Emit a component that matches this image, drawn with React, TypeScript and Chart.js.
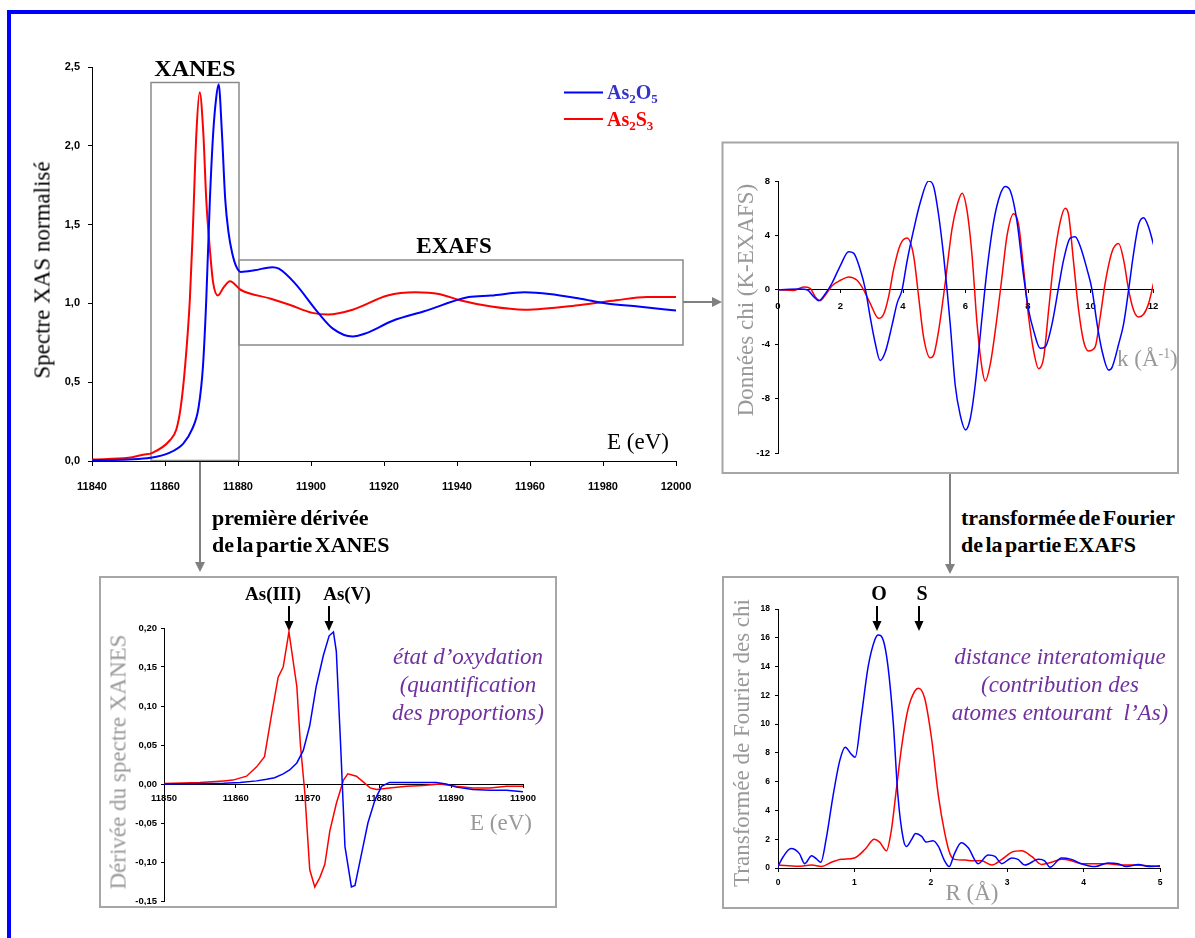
import React, { useEffect, useRef } from "react";
import { Chart, registerables } from "chart.js";

Chart.register(...registerables);

const SANS = "'Liberation Sans', Arial, sans-serif";
const SERIF = "'Liberation Serif', 'Times New Roman', serif";
const BLUE = "#0000FF";
const RED = "#FF0000";
const GRAY_TXT = "#999999";
const PURPLE = "#7030A0";

// ---------- Main XAS spectrum ----------
const xasE_O5 = [11840, 11850, 11856, 11861, 11865, 11867.4, 11869.2, 11870.4, 11871.3, 11872.3, 11873.2, 11874, 11874.7, 11875.6, 11876.5, 11877.4, 11878.4, 11879.6, 11880.8, 11884.5, 11889.4, 11891.2, 11895.5, 11902, 11906, 11911.4, 11915, 11922.4, 11931, 11943.2, 11949.3, 11958.5, 11965.3, 11973.8, 11981, 11989.6, 12000];
const xasO5 = [0.005, 0.01, 0.02, 0.05, 0.11, 0.2, 0.34, 0.6, 1.02, 1.66, 2.08, 2.3, 2.39, 2.08, 1.66, 1.45, 1.32, 1.23, 1.2, 1.21, 1.23, 1.22, 1.13, 0.94, 0.84, 0.79, 0.81, 0.89, 0.95, 1.04, 1.05, 1.07, 1.06, 1.03, 1.0, 0.98, 0.955];
const xasE_S3 = [11840, 11850, 11854, 11856.4, 11861.3, 11863.1, 11864.3, 11865.5, 11866.8, 11867.6, 11868.6, 11869.5, 11870.5, 11871.3, 11872.3, 11873.2, 11874.5, 11876, 11877.8, 11880.8, 11889, 11894.3, 11900.4, 11904.7, 11911.4, 11921, 11928.6, 11935, 11940.8, 11949.4, 11958.5, 11973.8, 11983.6, 11992, 12000];
const xasS3 = [0.01, 0.02, 0.04, 0.05, 0.13, 0.2, 0.34, 0.6, 1.02, 1.45, 2.08, 2.34, 2.08, 1.66, 1.34, 1.13, 1.05, 1.1, 1.14, 1.085, 1.03, 0.99, 0.94, 0.93, 0.96, 1.05, 1.07, 1.06, 1.02, 0.98, 0.96, 0.99, 1.02, 1.04, 1.04];

// ---------- chi(k) ----------
const chiK_O5 = [0, 0.71, 0.93, 1.14, 1.3, 1.51, 1.73, 2.0, 2.26, 2.42, 2.63, 2.8, 2.95, 3.1, 3.27, 3.43, 3.65, 3.81, 3.97, 4.13, 4.34, 4.55, 4.82, 4.98, 5.14, 5.3, 5.41, 5.51, 5.67, 5.83, 6.0, 6.15, 6.31, 6.53, 6.69, 6.9, 7.11, 7.27, 7.43, 7.65, 7.86, 8.02, 8.18, 8.39, 8.55, 8.77, 8.98, 9.14, 9.35, 9.51, 9.67, 9.89, 10.05, 10.21, 10.37, 10.58, 10.69, 10.9, 11.06, 11.22, 11.38, 11.54, 11.7, 11.86, 12.02];
const chiO5 = [0, 0.05, 0, -0.5, -0.8, -0.3, 0.5, 1.8, 2.8, 2.7, 1.5, 0, -2.0, -3.8, -5.2, -4.6, -2.6, -1.0, 0, 2.1, 4.4, 6.4, 8.0, 7.6, 5.5, 2.5, 0, -2.5, -7.0, -9.2, -10.3, -9.5, -7.0, -2.0, 1.5, 5.0, 7.0, 7.6, 7.3, 5.0, 1.0, -1.5, -3.0, -4.3, -4.2, -2.5, 0.2, 2.2, 3.8, 3.9, 3.2, 1.5, 0, -2.5, -4.5, -5.9, -5.7, -4.0, -2.5, 0, 2.7, 4.8, 5.3, 4.6, 3.3];
const chiK_S3 = [0, 0.5, 0.82, 1.03, 1.19, 1.35, 1.51, 1.73, 2.0, 2.26, 2.53, 2.74, 2.95, 3.22, 3.38, 3.54, 3.7, 3.91, 4.13, 4.34, 4.5, 4.66, 4.87, 4.98, 5.14, 5.35, 5.57, 5.73, 5.89, 6.05, 6.21, 6.37, 6.53, 6.63, 6.79, 7.01, 7.17, 7.33, 7.54, 7.7, 7.86, 8.02, 8.18, 8.34, 8.5, 8.66, 8.82, 9.03, 9.19, 9.3, 9.46, 9.62, 9.78, 9.94, 10.15, 10.31, 10.47, 10.69, 10.9, 11.06, 11.22, 11.38, 11.54, 11.7, 11.86, 12.02];
const chiS3 = [0, -0.05, 0.2, 0.1, -0.5, -0.8, -0.4, 0.3, 0.7, 0.95, 0.7, 0, -1.0, -2.1, -1.8, -0.5, 1.5, 3.3, 3.8, 2.5, -0.5, -3.5, -5.0, -4.8, -3.0, 0.5, 4.5, 6.2, 7.1, 5.8, 2.5, -2.5, -5.8, -6.7, -5.5, -2.0, 1.0, 4.0, 5.6, 4.8, 1.5, -2.0, -4.5, -5.8, -5.0, -1.5, 2.0, 5.0, 6.0, 5.5, 2.0, -1.5, -3.8, -4.5, -4.2, -2.0, 0.5, 2.8, 3.4, 2.2, 0, -1.5, -2.0, -1.8, -1.0, 0.5];

// ---------- XANES first derivative ----------
const derE_S3 = [11850, 11855, 11858.3, 11859.6, 11861.5, 11862.9, 11864, 11865, 11865.9, 11866.6, 11867.4, 11868.5, 11869, 11869.6, 11870.3, 11871, 11871.7, 11872.4, 11873.1, 11874, 11875, 11875.6, 11876.8, 11877.7, 11878.7, 11879.6, 11881.4, 11883.8, 11886.1, 11888.4, 11890.7, 11893, 11895.4, 11897.7, 11900];
const derS3 = [0.0005, 0.002, 0.004, 0.005, 0.01, 0.022, 0.035, 0.09, 0.137, 0.15, 0.195, 0.125, 0.05, -0.01, -0.11, -0.132, -0.12, -0.103, -0.06, -0.025, 0.005, 0.013, 0.01, 0.003, -0.005, -0.007, -0.005, -0.003, -0.002, 0, -0.003, -0.005, -0.005, -0.003, -0.003];
const derE_O5 = [11850, 11858.3, 11860.6, 11862.9, 11864.3, 11865.4, 11866.6, 11867.5, 11868.5, 11869.4, 11870.3, 11871.2, 11872.2, 11873, 11873.6, 11874, 11874.6, 11875.2, 11876.1, 11876.6, 11877.5, 11878.4, 11879.4, 11880.3, 11881.4, 11883.8, 11886.1, 11887.9, 11889.3, 11890.7, 11893, 11895.4, 11897.7, 11900];
const derO5 = [0, 0.001, 0.002, 0.004, 0.006, 0.008, 0.013, 0.018, 0.027, 0.043, 0.075, 0.125, 0.165, 0.19, 0.195, 0.17, 0.05, -0.08, -0.132, -0.13, -0.09, -0.05, -0.02, -0.003, 0.002, 0.002, 0.002, 0.002, 0, -0.004, -0.007, -0.008, -0.008, -0.01];

// ---------- Fourier transform ----------
const ftR_O5 = [0, 0.07, 0.17, 0.28, 0.35, 0.44, 0.5, 0.56, 0.63, 0.72, 0.81, 0.88, 0.96, 1.01, 1.09, 1.18, 1.27, 1.31, 1.38, 1.44, 1.51, 1.57, 1.64, 1.68, 1.75, 1.8, 1.88, 1.94, 2.03, 2.1, 2.18, 2.24, 2.31, 2.4, 2.49, 2.62, 2.75, 2.84, 2.93, 3.06, 3.14, 3.23, 3.41, 3.49, 3.56, 3.71, 3.84, 3.97, 4.15, 4.32, 4.45, 4.56, 4.72, 4.85, 5.0];
const ftO5 = [0.1, 0.8, 1.35, 1.0, 0.3, 0.85, 0.65, 0.4, 2.0, 5.0, 7.5, 8.4, 7.9, 7.7, 10.5, 14.0, 15.9, 16.2, 15.8, 14.0, 10.0, 5.0, 2.0, 1.5, 2.0, 2.4, 2.2, 1.8, 1.9, 1.5, 0.5, 0.1, 1.0, 1.75, 1.4, 0.3, 0.9, 0.8, 0.3, 0.7, 0.6, 0.2, 0.6, 0.5, 0.05, 0.7, 0.6, 0.3, 0.1, 0.35, 0.3, 0.1, 0.25, 0.1, 0.15];
const ftR_S3 = [0, 0.26, 0.44, 0.57, 0.7, 0.83, 1.0, 1.14, 1.26, 1.33, 1.42, 1.48, 1.55, 1.62, 1.7, 1.79, 1.84, 1.92, 2.01, 2.1, 2.18, 2.25, 2.31, 2.45, 2.55, 2.66, 2.8, 2.93, 3.06, 3.19, 3.32, 3.45, 3.58, 3.71, 3.84, 3.97, 4.15, 4.32, 4.5, 4.67, 4.85, 5.0];
const ftS3 = [0.2, 0.12, 0.2, 0.1, 0.4, 0.6, 0.7, 1.3, 2.0, 1.8, 1.2, 2.5, 5.5, 8.5, 11.0, 12.3, 12.5, 11.8, 9.0, 5.0, 2.5, 1.0, 0.6, 0.55, 0.5, 0.5, 0.2, 0.6, 1.1, 1.2, 0.8, 0.25, 0.4, 0.6, 0.5, 0.3, 0.3, 0.3, 0.2, 0.2, 0.15, 0.1];

const pts = (xs: number[], ys: number[]) => xs.map((x, i) => ({ x, y: ys[i] }));
const comma = (d: number) => (v: any) => Number(v).toFixed(d).replace(".", ",").replace("-0,00", "0,00");
const plain = (v: any) => String(Math.round(Number(v) * 1000) / 1000);

type Area = { l: number; t: number; r: number; b: number };
type AxisSpec = { min: number; max: number; step: number; font: number; pad: number; tick: number; fmt: (v: any) => string };

function Panel(props: {
  left: number; top: number; width: number; height: number; area: Area;
  datasets: any[]; x: AxisSpec; y: AxisSpec; xAtZero?: boolean;
}) {
  const { left, top, width, height, area, datasets, x, y, xAtZero } = props;
  const ref = useRef<HTMLCanvasElement>(null);
  useEffect(() => {
    const chart = new Chart(ref.current as HTMLCanvasElement, {
      type: "line",
      data: { datasets },
      options: {
        animation: false,
        responsive: false,
        devicePixelRatio: 1,
        layout: { padding: { left: 0, top: area.t, right: width - area.r, bottom: xAtZero ? height - area.b : 0 } },
        plugins: { legend: { display: false }, tooltip: { enabled: false } },
        elements: { point: { radius: 0 } },
        scales: {
          x: {
            type: "linear",
            position: xAtZero ? ({ y: 0 } as any) : "bottom",
            min: x.min,
            max: x.max,
            ticks: { stepSize: x.step, autoSkip: false, maxRotation: 0, padding: x.pad, color: "#000",
              font: { family: SANS, size: x.font, weight: "bold" }, callback: x.fmt },
            grid: { drawOnChartArea: false, drawTicks: true, tickLength: x.tick, color: "#000", lineWidth: 1 },
            border: { display: true, color: "#000", width: 1 },
            afterFit: (s: any) => { if (!xAtZero) s.height = height - area.b; s.paddingLeft = 0; s.paddingRight = 0; },
          },
          y: {
            type: "linear",
            position: "left",
            min: y.min,
            max: y.max,
            ticks: { stepSize: y.step, autoSkip: false, padding: y.pad, color: "#000",
              font: { family: SANS, size: y.font, weight: "bold" }, callback: y.fmt },
            grid: { drawOnChartArea: false, drawTicks: true, tickLength: y.tick, color: "#000", lineWidth: 1 },
            border: { display: true, color: "#000", width: 1 },
            afterFit: (s: any) => { s.width = area.l; s.paddingTop = 0; s.paddingBottom = 0; },
          },
        },
      } as any,
    });
    return () => chart.destroy();
  }, []);
  return <canvas ref={ref} width={width} height={height} style={{ position: "absolute", left, top, width, height }} />;
}

const ds = (data: any[], color: string, w: number, smooth: boolean) => ({
  data, borderColor: color, borderWidth: w, pointRadius: 0, fill: false,
  cubicInterpolationMode: smooth ? "monotone" : "default", tension: 0,
});

function T(p: { x: number; y: number; children: any; style?: any; start?: boolean; rot?: boolean }) {
  const tr = `translate(${p.start ? "0" : "-50%"}, -50%)${p.rot ? " rotate(-90deg)" : ""}`;
  return (
    <div style={{ position: "absolute", left: p.x, top: p.y, transform: tr, whiteSpace: "nowrap", lineHeight: 1, ...p.style }}>
      {p.children}
    </div>
  );
}

const Sub = ({ c }: { c: string }) => <span style={{ fontSize: "0.65em", position: "relative", top: "0.3em" }}>{c}</span>;

function ArrowDown({ x, y1, y2, color, w, hw, hh }: any) {
  return (
    <g>
      <line x1={x} y1={y1} x2={x} y2={y2 - hh + 1} stroke={color} strokeWidth={w} />
      <polygon points={`${x - hw / 2},${y2 - hh} ${x + hw / 2},${y2 - hh} ${x},${y2}`} fill={color} />
    </g>
  );
}

export default function App() {
  const serif = { fontFamily: SERIF };
  const bold = { fontFamily: SERIF, fontWeight: "bold" as const };
  const gt = { fontFamily: SERIF, fontSize: 23, color: GRAY_TXT };
  const purple = { fontFamily: SERIF, fontStyle: "italic" as const, fontSize: 23, color: PURPLE };
  return (
    <div style={{ position: "absolute", left: 0, top: 0, width: 1195, height: 938, overflow: "hidden", background: "#fff" }}>
      <svg width={1195} height={938} style={{ position: "absolute", left: 0, top: 0 }}>
        <rect x={7} y={10} width={1188} height={4} fill="#0000FF" />
        <rect x={7} y={10} width={4} height={928} fill="#0000FF" />
        {/* XANES / EXAFS boxes */}
        <rect x={151} y={82.5} width={88} height={378} fill="none" stroke="#8a8a8a" strokeWidth={1.5} />
        <rect x={239} y={260} width={444} height={85} fill="none" stroke="#8a8a8a" strokeWidth={1.5} />
        {/* panel boxes */}
        <rect x={722.5} y={142.5} width={455.5} height={330.5} fill="none" stroke="#a6a6a6" strokeWidth={2} />
        <rect x={100} y={577} width={456} height={330} fill="none" stroke="#a6a6a6" strokeWidth={2} />
        <rect x={723} y={577} width={455} height={331} fill="none" stroke="#a6a6a6" strokeWidth={2} />
        {/* gray connectors */}
        <line x1={683} y1={302} x2={713} y2={302} stroke="#808080" strokeWidth={2} />
        <polygon points="712,297 712,307 722,302" fill="#808080" />
        <ArrowDown x={200} y1={461} y2={572} color="#808080" w={2} hw={10} hh={10} />
        <ArrowDown x={950} y1={474} y2={574} color="#808080" w={2} hw={10} hh={10} />
        {/* black markers */}
        <ArrowDown x={289} y1={606} y2={631} color="#000" w={2} hw={9} hh={10} />
        <ArrowDown x={329} y1={606} y2={631} color="#000" w={2} hw={9} hh={10} />
        <ArrowDown x={877} y1={606} y2={631} color="#000" w={2} hw={9} hh={10} />
        <ArrowDown x={919} y1={606} y2={631} color="#000" w={2} hw={9} hh={10} />
        {/* legend lines */}
        <line x1={564} y1={92.5} x2={603} y2={92.5} stroke={BLUE} strokeWidth={2} />
        <line x1={564} y1={119} x2={603} y2={119} stroke={RED} strokeWidth={2} />
      </svg>

      <Panel left={20} top={40} width={680} height={470} area={{ l: 72, t: 27, r: 656, b: 421 }}
        datasets={[ds(pts(xasE_O5, xasO5), BLUE, 2, true), ds(pts(xasE_S3, xasS3), RED, 2, true)]}
        x={{ min: 11840, max: 12000, step: 20, font: 11, pad: 14, tick: 5, fmt: plain }}
        y={{ min: 0, max: 2.5, step: 0.5, font: 11, pad: 8, tick: 4, fmt: comma(1) }} />

      <Panel left={725} top={145} width={450} height={326} area={{ l: 53, t: 36, r: 428, b: 308 }} xAtZero
        datasets={[ds(pts(chiK_O5, chiO5), BLUE, 1.5, true), ds(pts(chiK_S3, chiS3), RED, 1.5, true)]}
        x={{ min: 0, max: 12, step: 2, font: 9.5, pad: 8, tick: 3, fmt: plain }}
        y={{ min: -12, max: 8, step: 4, font: 9.5, pad: 5, tick: 3, fmt: plain }} />

      <Panel left={103} top={580} width={450} height={325} area={{ l: 61, t: 48, r: 420, b: 321 }} xAtZero
        datasets={[ds(pts(derE_O5, derO5), BLUE, 1.5, false), ds(pts(derE_S3, derS3), RED, 1.5, false)]}
        x={{ min: 11850, max: 11900, step: 10, font: 9.5, pad: 6, tick: 3, fmt: plain }}
        y={{ min: -0.15, max: 0.2, step: 0.05, font: 9.5, pad: 4, tick: 3, fmt: comma(2) }} />

      <Panel left={726} top={580} width={450} height={325} area={{ l: 52, t: 29, r: 434, b: 288 }}
        datasets={[ds(pts(ftR_O5, ftO5), BLUE, 1.5, true), ds(pts(ftR_S3, ftS3), RED, 1.5, true)]}
        x={{ min: 0, max: 5, step: 1, font: 8.5, pad: 6, tick: 4, fmt: plain }}
        y={{ min: 0, max: 18, step: 2, font: 8.5, pad: 5, tick: 3, fmt: plain }} />

      {/* Main chart texts */}
      <T x={195} y={68} style={{ ...bold, fontSize: 24 }}>XANES</T>
      <T x={454} y={245} style={{ ...bold, fontSize: 23 }}>EXAFS</T>
      <T x={607} y={92} start style={{ ...bold, fontSize: 20, color: "#3333CC" }}>As<Sub c="2" />O<Sub c="5" /></T>
      <T x={607} y={119} start style={{ ...bold, fontSize: 20, color: RED }}>As<Sub c="2" />S<Sub c="3" /></T>
      <T x={42} y={270} rot style={{ ...serif, fontSize: 23 }}>Spectre XAS normalisé</T>
      <T x={607} y={441} start style={{ ...serif, fontSize: 23 }}>E (eV)</T>

      <T x={212} y={518} start style={{ ...bold, fontSize: 22, wordSpacing: -2 }}>première dérivée</T>
      <T x={212} y={545} start style={{ ...bold, fontSize: 22, wordSpacing: -3 }}>de la partie XANES</T>
      <T x={961} y={518} start style={{ ...bold, fontSize: 22, wordSpacing: -3 }}>transformée de Fourier</T>
      <T x={961} y={545} start style={{ ...bold, fontSize: 22, wordSpacing: -3 }}>de la partie EXAFS</T>

      {/* chi(k) panel texts */}
      <T x={745} y={300} rot style={gt}>Données chi (K-EXAFS)</T>
      <T x={1117} y={358} start style={gt}>k (Å<span style={{ fontSize: "0.6em", position: "relative", top: "-0.6em" }}>-1</span>)</T>

      {/* derivative panel texts */}
      <T x={273} y={593} style={{ ...bold, fontSize: 19 }}>As(III)</T>
      <T x={347} y={593} style={{ ...bold, fontSize: 19 }}>As(V)</T>
      <T x={118} y={762} rot style={gt}>Dérivée du spectre XANES</T>
      <T x={470} y={822} start style={gt}>E (eV)</T>
      <T x={468} y={656} style={purple}>état d’oxydation</T>
      <T x={468} y={684} style={purple}>(quantification</T>
      <T x={468} y={712} style={purple}>des proportions)</T>

      {/* FT panel texts */}
      <T x={879} y={593} style={{ ...bold, fontSize: 20 }}>O</T>
      <T x={922} y={593} style={{ ...bold, fontSize: 20 }}>S</T>
      <T x={741} y={743} rot style={gt}>Transformée de Fourier des chi</T>
      <T x={972} y={892} style={gt}>R (Å)</T>
      <T x={1060} y={656} style={purple}>distance interatomique</T>
      <T x={1060} y={684} style={purple}>(contribution des</T>
      <T x={1060} y={712} style={purple}>atomes entourant &nbsp;l’As)</T>
    </div>
  );
}
